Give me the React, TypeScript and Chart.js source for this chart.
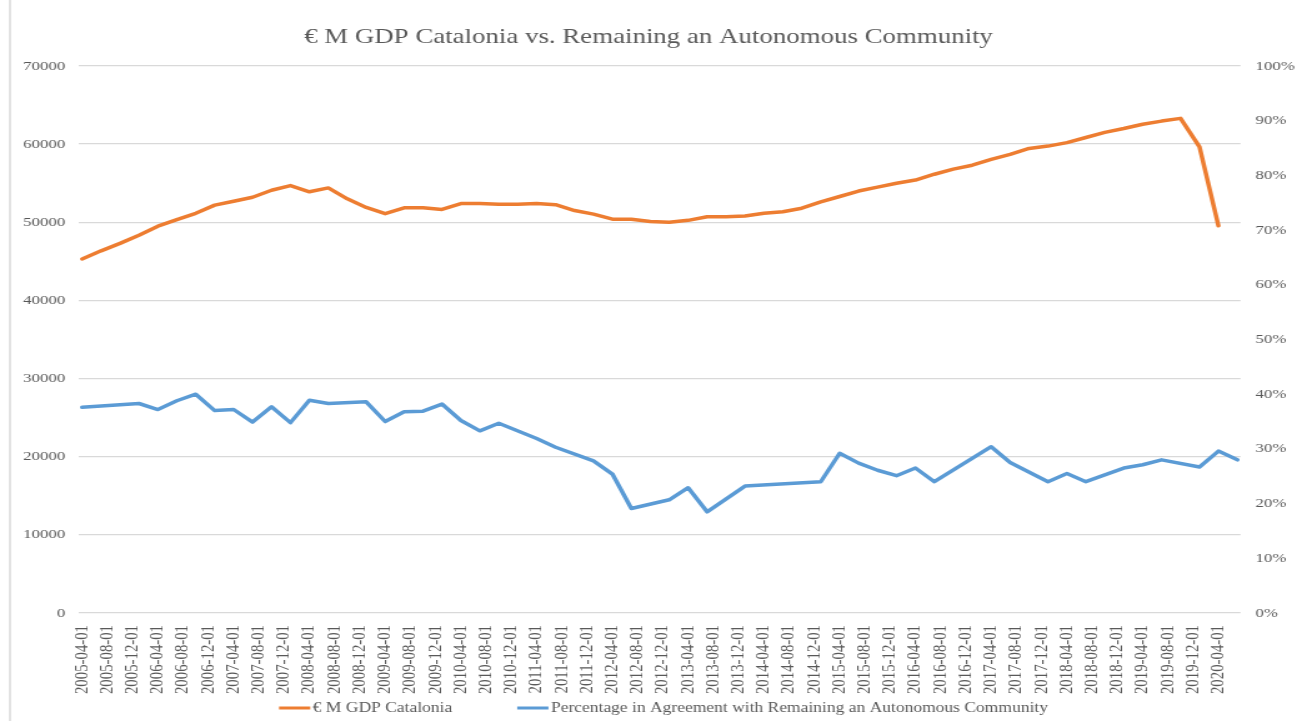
import React, { useEffect, useRef } from "react";
import { Chart, registerables } from "chart.js";

Chart.register(...registerables);

// ---------- data ----------
const gdpDates = [
  "2005-04-01", "2005-07-01", "2005-10-01",
  "2006-01-01", "2006-04-01", "2006-07-01", "2006-10-01",
  "2007-01-01", "2007-04-01", "2007-07-01", "2007-10-01",
  "2008-01-01", "2008-04-01", "2008-07-01", "2008-10-01",
  "2009-01-01", "2009-04-01", "2009-07-01", "2009-10-01",
  "2010-01-01", "2010-04-01", "2010-07-01", "2010-10-01",
  "2011-01-01", "2011-04-01", "2011-07-01", "2011-10-01",
  "2012-01-01", "2012-04-01", "2012-07-01", "2012-10-01",
  "2013-01-01", "2013-04-01", "2013-07-01", "2013-10-01",
  "2014-01-01", "2014-04-01", "2014-07-01", "2014-10-01",
  "2015-01-01", "2015-04-01", "2015-07-01", "2015-10-01",
  "2016-01-01", "2016-04-01", "2016-07-01", "2016-10-01",
  "2017-01-01", "2017-04-01", "2017-07-01", "2017-10-01",
  "2018-01-01", "2018-04-01", "2018-07-01", "2018-10-01",
  "2019-01-01", "2019-04-01", "2019-07-01", "2019-10-01",
  "2020-01-01", "2020-04-01",
];

const gdpValues = [
  45300, 46350, 47300,
  48350, 49500, 50350, 51150,
  52200, 52700, 53200, 54100,
  54700, 53900, 54400, 53000,
  51900, 51100, 51850, 51850,
  51650, 52400, 52400, 52300,
  52300, 52400, 52250, 51500,
  51050, 50400, 50400, 50100,
  50000, 50250, 50700, 50700,
  50800, 51150, 51350, 51800,
  52600, 53300, 54000, 54500,
  55000, 55400, 56150, 56800,
  57300, 58050, 58700, 59450,
  59750, 60200, 60850, 61500,
  62000, 62550, 62950, 63300,
  59650, 49550,
];

const pollDates = [
  "2005-04-01", "2006-01-01", "2006-04-01", "2006-07-01", "2006-10-01",
  "2007-01-01", "2007-04-01", "2007-07-01", "2007-10-01", "2008-01-01",
  "2008-04-01", "2008-07-01", "2009-01-01", "2009-04-01", "2009-07-01",
  "2009-10-01", "2010-01-01", "2010-04-01", "2010-07-01", "2010-10-01",
  "2011-04-01", "2011-07-01", "2012-01-01", "2012-04-01", "2012-07-01",
  "2013-01-01", "2013-04-01", "2013-07-01", "2014-01-01", "2015-01-01",
  "2015-04-01", "2015-07-01", "2015-10-01", "2016-01-01", "2016-04-01",
  "2016-07-01", "2017-04-01", "2017-07-01", "2018-01-01", "2018-04-01",
  "2018-07-01", "2019-01-01", "2019-04-01", "2019-07-01", "2020-01-01",
  "2020-04-01", "2020-07-01",
];

const pollValues = [
  37.6, 38.3, 37.2, 38.8, 40.0,
  37.0, 37.2, 34.9, 37.7, 34.8,
  38.9, 38.3, 38.6, 35.0, 36.8,
  36.9, 38.2, 35.2, 33.3, 34.7,
  31.9, 30.3, 27.8, 25.4, 19.1,
  20.7, 22.9, 18.5, 23.2, 24.0,
  29.2, 27.4, 26.1, 25.1, 26.5,
  24.0, 30.4, 27.5, 24.0, 25.5,
  24.0, 26.5, 27.1, 28.0, 26.7,
  29.6, 28.0,
];

const xTickLabels = [
  "2005-04-01", "2005-08-01", "2005-12-01",
  "2006-04-01", "2006-08-01", "2006-12-01",
  "2007-04-01", "2007-08-01", "2007-12-01",
  "2008-04-01", "2008-08-01", "2008-12-01",
  "2009-04-01", "2009-08-01", "2009-12-01",
  "2010-04-01", "2010-08-01", "2010-12-01",
  "2011-04-01", "2011-08-01", "2011-12-01",
  "2012-04-01", "2012-08-01", "2012-12-01",
  "2013-04-01", "2013-08-01", "2013-12-01",
  "2014-04-01", "2014-08-01", "2014-12-01",
  "2015-04-01", "2015-08-01", "2015-12-01",
  "2016-04-01", "2016-08-01", "2016-12-01",
  "2017-04-01", "2017-08-01", "2017-12-01",
  "2018-04-01", "2018-08-01", "2018-12-01",
  "2019-04-01", "2019-08-01", "2019-12-01",
  "2020-04-01",
];

const TITLE = "€ M GDP Catalonia vs. Remaining an Autonomous Community";
const seriesNames = [
  "€ M GDP Catalonia",
  "Percentage in Agreement with Remaining an Autonomous Community",
];
const seriesColors = ["#ED7D31", "#5B9BD5"];

// ---------- layout constants ----------
const DISPLAY_W = 1297;
const DISPLAY_H = 721;
const CANVAS_W = 1038; // drawn narrower, then stretched horizontally like the reference
const FONT = '"Liberation Serif", "Times New Roman", serif';
const TEXT_COLOR = "#595959";

const monthIndex = (d: string) => {
  const [y, m] = d.split("-").map(Number);
  return (y - 2005) * 12 + (m - 4);
};

const borderPlugin = {
  id: "leftBorder",
  beforeDraw(chart: any) {
    const ctx = chart.ctx;
    ctx.save();
    ctx.strokeStyle = "#d9d9d9";
    ctx.lineWidth = 1.5;
    ctx.beginPath();
    ctx.moveTo(8, 0);
    ctx.lineTo(8, chart.height);
    ctx.stroke();
    ctx.restore();
  },
};

const legendPlugin = {
  id: "bottomLegend",
  afterDraw(chart: any) {
    const ctx = chart.ctx;
    ctx.save();
    ctx.font = `14px ${FONT}`;
    const sample = 25;
    const gap = 2;
    const itemGap = 52;
    const widths = seriesNames.map((n) => ctx.measureText(n).width);
    const total = widths.reduce((a, b) => a + b, 0) + 2 * (sample + gap) + itemGap;
    let x = 531 - total / 2;
    const y = 708;
    seriesNames.forEach((n, i) => {
      ctx.strokeStyle = seriesColors[i];
      ctx.lineWidth = 3;
      ctx.lineCap = "butt";
      ctx.beginPath();
      ctx.moveTo(x, y);
      ctx.lineTo(x + sample, y);
      ctx.stroke();
      x += sample + gap;
      ctx.fillStyle = TEXT_COLOR;
      ctx.textBaseline = "middle";
      ctx.textAlign = "left";
      ctx.fillText(n, x, y);
      x += widths[i] + itemGap;
    });
    ctx.restore();
  },
};

export default function App() {
  const canvasRef = useRef<HTMLCanvasElement | null>(null);

  useEffect(() => {
    if (!canvasRef.current) return;
    const gdpData = gdpDates.map((d, i) => ({ x: monthIndex(d), y: gdpValues[i] }));
    const pollData = pollDates.map((d, i) => ({ x: monthIndex(d), y: pollValues[i] }));

    const chart = new Chart(canvasRef.current, {
      type: "line",
      data: {
        datasets: [
          {
            label: seriesNames[0],
            data: gdpData,
            borderColor: seriesColors[0],
            backgroundColor: seriesColors[0],
            borderWidth: 3.5,
            pointRadius: 0,
            tension: 0,
            yAxisID: "y",
            borderJoinStyle: "round",
            borderCapStyle: "round",
          },
          {
            label: seriesNames[1],
            data: pollData,
            borderColor: seriesColors[1],
            backgroundColor: seriesColors[1],
            borderWidth: 3.5,
            pointRadius: 0,
            tension: 0,
            yAxisID: "y1",
            borderJoinStyle: "round",
            borderCapStyle: "round",
          },
        ],
      },
      options: {
        responsive: false,
        devicePixelRatio: 1,
        animation: false,
        layout: { padding: { top: 0, bottom: 20, left: 0, right: 0 } },
        plugins: {
          legend: { display: false },
          tooltip: { enabled: false },
          title: {
            display: true,
            text: TITLE,
            color: TEXT_COLOR,
            font: { family: FONT, size: 21.5, weight: "normal" },
            padding: { top: 24, bottom: 16.2 },
          },
        },
        scales: {
          x: {
            type: "linear",
            min: -0.5,
            max: 183.5,
            grid: { display: false },
            border: { display: false },
            afterBuildTicks: (scale: any) => {
              scale.ticks = xTickLabels.map((_, k) => ({ value: 4 * k }));
            },
            afterFit: (scale: any) => {
              scale.height = 88;
            },
            ticks: {
              autoSkip: false,
              minRotation: 90,
              maxRotation: 90,
              padding: 4,
              color: TEXT_COLOR,
              font: { family: FONT, size: 14.8 },
              callback: (value: any) => {
                const k = Math.round(Number(value) / 4);
                return xTickLabels[k] ?? "";
              },
            },
          },
          y: {
            position: "left",
            min: 0,
            max: 70000,
            grid: { color: "#d9d9d9", lineWidth: 1.3, drawTicks: false },
            border: { display: false },
            afterFit: (scale: any) => {
              scale.width = 63.2;
            },
            ticks: {
              stepSize: 10000,
              padding: 11,
              color: TEXT_COLOR,
              font: { family: FONT, size: 13.5 },
              callback: (v: any) => String(v),
            },
          },
          y1: {
            position: "right",
            min: 0,
            max: 100,
            grid: { display: false, drawTicks: false },
            border: { display: false },
            afterFit: (scale: any) => {
              scale.width = CANVAS_W - 992.8;
            },
            ticks: {
              stepSize: 10,
              padding: 12,
              color: TEXT_COLOR,
              font: { family: FONT, size: 13.5 },
              callback: (v: any) => `${v}%`,
            },
          },
        },
      } as any,
      plugins: [borderPlugin, legendPlugin],
    });

    return () => chart.destroy();
  }, []);

  return (
    <div
      style={{
        position: "fixed",
        left: 0,
        top: 0,
        width: DISPLAY_W,
        height: DISPLAY_H,
        background: "#ffffff",
        overflow: "hidden",
      }}
    >
      <canvas
        ref={canvasRef}
        width={CANVAS_W}
        height={DISPLAY_H}
        style={{ width: `${DISPLAY_W}px`, height: `${DISPLAY_H}px`, display: "block" }}
      />
    </div>
  );
}
